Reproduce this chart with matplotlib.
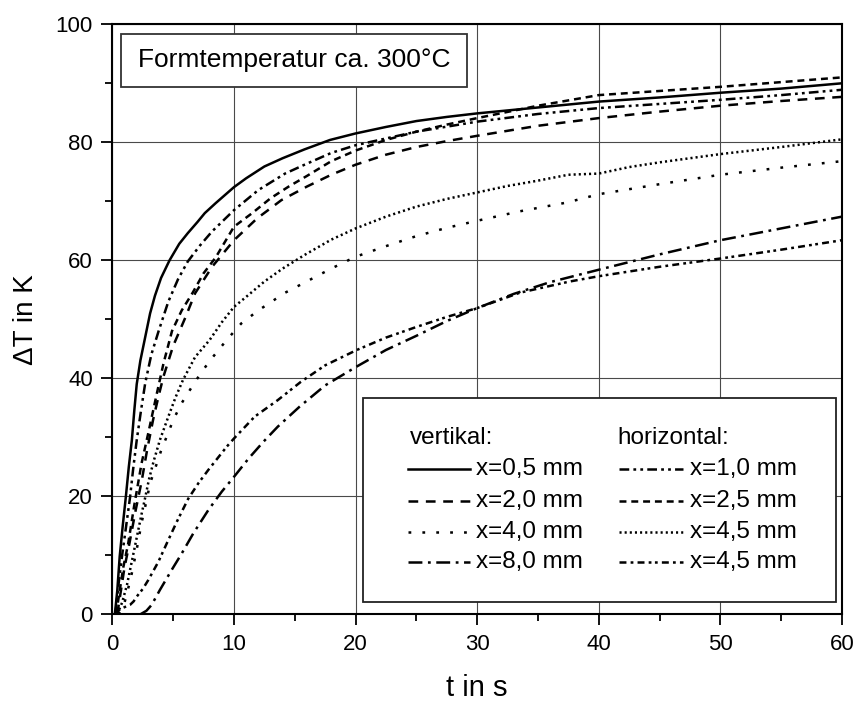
import matplotlib
matplotlib.use("Agg")
import matplotlib.pyplot as plt
from matplotlib.patches import Rectangle
from matplotlib.lines import Line2D

plt.rcParams['font.family'] = ['Liberation Sans', 'DejaVu Sans']
plt.rcParams['lines.scale_dashes'] = False

# ---- data (t in s, dT in K) ----
t_v05 = [0.2, 0.4, 0.6, 0.85, 1.1, 1.35, 1.6, 1.8, 2.0, 2.3, 2.7, 3.1, 3.5, 4.0, 4.7, 5.5, 6.2, 7.0, 7.6, 8.5, 10, 11, 12.5, 14, 15.8, 17.9, 20, 22.5, 25, 27.5, 30, 35, 40, 45, 50, 55, 60]
y_v05 = [0, 4, 9.8, 15, 19.8, 25, 29.5, 34.5, 39, 43, 47, 51, 54, 57, 60, 62.8, 64.6, 66.5, 68, 69.7, 72.4, 73.9, 75.9, 77.3, 78.8, 80.4, 81.5, 82.6, 83.6, 84.3, 84.9, 85.9, 86.9, 87.6, 88.4, 89.1, 90.0]

t_v20 = [0.4, 0.7, 1.0, 1.4, 1.9, 2.4, 2.85, 3.35, 3.8, 4.2, 5.0, 6.0, 6.8, 8.2, 10, 11.9, 13.9, 16, 18, 20, 22.5, 25, 27.5, 30, 35, 40, 45, 50, 55, 60]
y_v20 = [0, 4, 8, 12, 17.5, 22.5, 27.8, 33, 37, 40.3, 45.5, 50.3, 54.4, 58.9, 63.4, 67.1, 70.2, 72.5, 74.5, 76.2, 77.9, 79.2, 80.2, 81.1, 82.8, 84.1, 85.2, 86.2, 87.0, 87.7]

t_v40 = [0.5, 1.0, 1.5, 2.0, 2.4, 2.82, 3.1, 3.56, 4.0, 4.46, 5.0, 5.64, 6.46, 7.34, 8.3, 9.4, 10.6, 12, 14.2, 15.6, 18, 20, 22.5, 25, 27.5, 30, 33.5, 37.4, 40, 45, 50, 55, 60]
y_v40 = [0, 2, 6, 11, 15.5, 19.4, 22.2, 25, 27.7, 30.1, 32.9, 35.6, 38.3, 41.1, 43.7, 46.5, 49.3, 51.5, 54.5, 56, 58.6, 60.6, 62.4, 64.1, 65.5, 66.7, 68.3, 69.8, 71.2, 72.9, 74.5, 75.7, 76.8]

t_v80 = [2.3, 2.8, 3.23, 3.9, 4.87, 5.7, 6.65, 7.9, 9.0, 10, 11.2, 12.4, 13.6, 15.4, 17.5, 20.1, 22.5, 25, 27.5, 30, 33, 36, 40, 45, 50, 55, 60]
y_v80 = [0, 0.6, 1.6, 4.1, 7.5, 10.3, 13.7, 17.7, 20.8, 23.3, 26.4, 29.2, 31.8, 35.2, 38.8, 42.0, 44.8, 47.2, 49.7, 51.9, 54.3, 56.3, 58.4, 61.0, 63.4, 65.4, 67.4]

t_h10 = [0.25, 0.5, 0.8, 1.1, 1.45, 1.7, 2.0, 2.35, 2.7, 3.2, 3.8, 4.6, 5.4, 6.2, 7.2, 8.2, 10, 12, 14.2, 15.8, 18, 20, 25, 30, 35, 40, 45, 50, 55, 60]
y_h10 = [0, 5, 10, 14.5, 19.8, 24.5, 29.5, 34.5, 39.2, 44, 48, 53, 56.8, 59.8, 62.5, 64.9, 68.5, 71.9, 74.7, 76.2, 78.2, 79.5, 81.8, 83.5, 84.8, 85.8, 86.5, 87.2, 88.0, 88.9]

t_h25 = [0.3, 0.6, 0.9, 1.3, 1.8, 2.4, 2.95, 3.6, 4.2, 4.9, 5.7, 6.6, 7.5, 8.5, 10, 11.5, 13, 14.5, 16, 18, 20, 22.5, 25, 27.5, 30, 35, 40, 45, 50, 55, 60]
y_h25 = [0, 4, 8, 12, 18.5, 25.6, 30.7, 36.9, 42.5, 48, 51.5, 54.5, 57.8, 60.5, 65.7, 68, 70.5, 72.5, 74.3, 76.8, 78.6, 80.4, 81.8, 83.0, 84.1, 86.2, 88.0, 88.7, 89.4, 90.2, 91.0]

t_h45 = [0.4, 0.8, 1.2, 1.6, 2.0, 2.4, 2.7, 3.0, 3.4, 3.9, 4.6, 5.2, 5.8, 6.8, 8.0, 9.0, 10, 11, 12.5, 14, 15.8, 18, 20, 22.5, 25, 27.5, 30, 32.5, 35, 37.5, 40, 42.5, 45, 50, 55, 60]
y_h45 = [0, 2, 5, 9, 13, 17, 19.8, 22.8, 26, 29.5, 33.5, 36.8, 39.7, 43.6, 46.5, 49.5, 52.1, 53.8, 56.4, 58.6, 60.9, 63.5, 65.4, 67.4, 69.1, 70.4, 71.5, 72.6, 73.5, 74.5, 74.7, 75.8, 76.6, 78.0, 79.2, 80.5]

t_h45b = [0.2, 0.5, 0.76, 1.1, 1.45, 1.75, 2.0, 2.5, 2.95, 3.78, 4.6, 5.3, 6.24, 7.1, 7.9, 9.4, 10, 11.7, 13.6, 15.5, 17.5, 20.1, 22.5, 25, 27.5, 30, 33.5, 37.6, 40, 45, 50, 55, 60]
y_h45b = [0, 0.6, 1.0, 1.3, 1.6, 2.2, 3.0, 4.3, 5.8, 8.9, 12.6, 15.7, 19.6, 22.3, 24.5, 28.4, 29.8, 33.5, 36.3, 39.4, 42.2, 44.8, 46.9, 48.7, 50.4, 51.9, 54.5, 56.4, 57.3, 58.9, 60.3, 61.8, 63.4]

labels_v = ['x=0,5 mm', 'x=2,0 mm', 'x=4,0 mm', 'x=8,0 mm']
labels_h = ['x=1,0 mm', 'x=2,5 mm', 'x=4,5 mm', 'x=4,5 mm']
title_text = 'Formtemperatur ca. 300°C'

# ---- styles ----
LW = 1.8
ls_v = ['-', (0, (7, 5.5)), (0, (2, 8)), (0, (10, 4, 2, 4))]
ls_h = [(0, (7, 3, 2, 3, 2, 3)), (0, (5, 3.5)), (0, (1.5, 2.2)), (0, (5, 3, 2, 3, 5, 3, 2, 2.5, 2, 3))]

fig = plt.figure(figsize=(8.56, 7.06), dpi=100)
ax = fig.add_axes([112.4 / 856, 1 - 614.3 / 706, 729.5 / 856, 590 / 706])

series_v = [(t_v05, y_v05), (t_v20, y_v20), (t_v40, y_v40), (t_v80, y_v80)]
series_h = [(t_h10, y_h10), (t_h25, y_h25), (t_h45, y_h45), (t_h45b, y_h45b)]
for (t, y), ls in zip(series_v, ls_v):
    ax.plot(t, y, color='black', lw=LW, linestyle=ls, zorder=3)
for (t, y), ls in zip(series_h, ls_h):
    ax.plot(t, y, color='black', lw=LW, linestyle=ls, zorder=3)

ax.set_xlim(0, 60)
ax.set_ylim(0, 100)
ax.set_xticks(range(0, 61, 10))
ax.set_xticks(range(5, 60, 10), minor=True)
ax.set_yticks(range(0, 101, 20))
ax.set_yticks(range(10, 100, 20), minor=True)
ax.grid(True, which='major', color='#4a4a4a', lw=0.8, zorder=1)
ax.tick_params(which='major', direction='out', length=8, width=1.3, labelsize=16, pad=6)
ax.tick_params(which='minor', direction='out', length=5, width=1.3)
for s in ax.spines.values():
    s.set_linewidth(1.5)
ax.set_xlabel('t in s', fontsize=21, labelpad=14)
ax.set_ylabel('ΔT in K', fontsize=20, labelpad=12)

# title box
ax.add_patch(Rectangle((0.0114, 0.8942), 0.4747, 0.0894, transform=ax.transAxes,
                       facecolor='white', edgecolor='#333333', lw=1.3, zorder=5))
ax.text(0.0351, 0.939, title_text, transform=ax.transAxes, fontsize=19,
        va='center', ha='left', zorder=6)

# legend box
FS = 17.5
ax.add_patch(Rectangle((0.3436, 0.0208), 0.6484, 0.3463, transform=ax.transAxes,
                       facecolor='white', edgecolor='#222222', lw=1.3, zorder=5))
ax.text(0.4080, 0.2988, 'vertikal:', transform=ax.transAxes, fontsize=FS,
        va='center', ha='left', zorder=6)
ax.text(0.6927, 0.2988, 'horizontal:', transform=ax.transAxes, fontsize=FS,
        va='center', ha='left', zorder=6)
rows = [0.2463, 0.1921, 0.1400, 0.0892]
for yy, ls, lab in zip(rows, ls_v, labels_v):
    ax.add_line(Line2D([0.4053, 0.4903], [yy, yy], transform=ax.transAxes, color='black',
                       lw=LW, linestyle=ls, zorder=6))
    ax.text(0.4989, yy, lab, transform=ax.transAxes, fontsize=FS, va='center', ha='left', zorder=6)
for yy, ls, lab in zip(rows, ls_h, labels_h):
    ax.add_line(Line2D([0.6944, 0.7822], [yy, yy], transform=ax.transAxes, color='black',
                       lw=LW, linestyle=ls, zorder=6))
    ax.text(0.7919, yy, lab, transform=ax.transAxes, fontsize=FS, va='center', ha='left', zorder=6)

fig.savefig('out.png', dpi=100)
